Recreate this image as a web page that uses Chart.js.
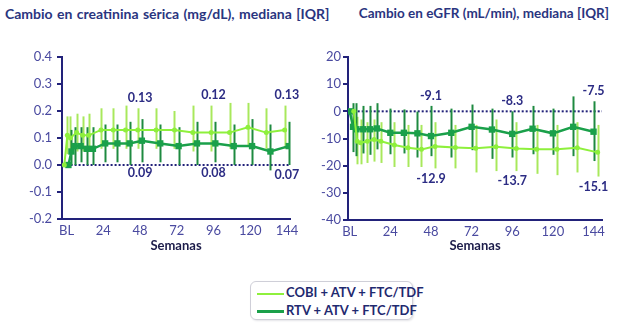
<!DOCTYPE html>
<html>
<head>
<meta charset="utf-8">
<script src="https://cdn.jsdelivr.net/npm/chart.js@4/dist/chart.umd.min.js"></script>
<style>
  body { margin: 0; background: #fff; font-family: Lato, sans-serif; }
  #wrap { position: relative; width: 619px; height: 325px; overflow: hidden; }
  .titulo { position: absolute; top: 5px; font-weight: bold; font-size: 14px; color: #2a3580; white-space: nowrap; }
  canvas { position: absolute; top: 0; }
  #leyenda { position: absolute; left: 250px; top: 281px; width: 161px; height: 37px;
             border: 1px solid #cfcfd8; border-radius: 6px; box-shadow: 1px 1px 2px #e4e4e8; }
  .item { position: absolute; left: 6px; font-weight: bold; font-size: 13px; color: #1f2a70; white-space: nowrap; }
  .item span { display: inline-block; width: 27px; height: 2px; vertical-align: middle; margin-right: 2px; }
</style>
</head>
<body>
<div id="wrap">
  <div class="titulo" style="left:5px; word-spacing:1px">Cambio en creatinina sérica (mg/dL), mediana [IQR]</div>
  <div class="titulo" style="right:10px; font-size:13.5px">Cambio en eGFR (mL/min), mediana [IQR]</div>
  <canvas id="graficoCr" width="310" height="260" style="left:0"></canvas>
  <canvas id="graficoGfr" width="309" height="260" style="left:310px"></canvas>
  <div id="leyenda">
    <div class="item" style="top:2px"><span style="background:#8ef03c"></span>COBI + ATV + FTC/TDF</div>
    <div class="item" style="top:20px"><span style="background:#1aa04a; height:3px"></span>RTV + ATV + FTC/TDF</div>
  </div>
</div>
<script>
// semanas de visita
const semanas = [0, 2, 4, 8, 12, 16, 24, 32, 40, 48, 60, 72, 84, 96, 108, 120, 132, 144];
const semanasTicks = [0, 24, 48, 72, 96, 120, 144];

// creatinina sérica (mg/dL) - mediana, Q1, Q3
const cobiCr   = [0, 0.11, 0.10, 0.12, 0.11, 0.11, 0.13, 0.13, 0.13, 0.13, 0.13, 0.13, 0.12, 0.12, 0.12, 0.14, 0.12, 0.13];
const cobiCrQ1 = [0, 0.04, 0.04, 0.05, 0.05, 0.05, 0.06, 0.06, 0.06, 0.06, 0.06, 0.06, 0.05, 0.05, 0.06, 0.07, 0.06, 0.06];
const cobiCrQ3 = [0, 0.18, 0.18, 0.19, 0.18, 0.19, 0.21, 0.21, 0.22, 0.21, 0.21, 0.20, 0.22, 0.22, 0.23, 0.23, 0.21, 0.22];
const rtvCr    = [0, 0.05, 0.07, 0.07, 0.06, 0.06, 0.08, 0.08, 0.08, 0.09, 0.08, 0.07, 0.08, 0.08, 0.07, 0.07, 0.05, 0.07];
const rtvCrQ1  = [0, 0.00, 0.00, 0.01, 0.00, 0.00, 0.01, 0.01, 0.00, 0.01, 0.01, 0.00, 0.00, 0.01, 0.00, 0.00, -0.02, 0.00];
const rtvCrQ3  = [0, 0.13, 0.14, 0.14, 0.14, 0.14, 0.15, 0.15, 0.16, 0.17, 0.15, 0.14, 0.16, 0.16, 0.15, 0.17, 0.15, 0.16];

// eGFR (mL/min) - mediana, Q1, Q3
const cobiGfr   = [0, -11.0, -11.6, -11.0, -10.4, -11.0, -12.4, -13.4, -14.0, -12.9, -13.3, -13.6, -13.0, -13.7, -14.0, -14.0, -13.4, -15.1];
const cobiGfrQ1 = [0, -19.5, -19.5, -19.0, -18.5, -19.0, -20.5, -20.5, -20.5, -21.0, -21.0, -22.5, -22.0, -22.0, -23.0, -23.5, -22.5, -24.0];
const cobiGfrQ3 = [0, -2.0, -3.0, -4.0, -3.0, -4.0, -4.0, -5.0, -5.0, -4.0, -5.0, -5.0, -3.0, -4.0, -5.0, -5.0, -4.0, -5.0];
const rtvGfr    = [0, -5.7, -6.6, -6.6, -6.6, -6.3, -7.9, -7.9, -8.1, -9.1, -7.9, -5.7, -6.7, -8.3, -6.4, -8.1, -5.7, -7.5];
const rtvGfrQ1  = [0, -15.0, -16.5, -15.5, -16.0, -14.0, -15.8, -15.5, -17.0, -16.5, -17.0, -14.3, -17.5, -17.0, -15.8, -16.0, -16.5, -18.3];
const rtvGfrQ3  = [0, 3.0, 3.0, 2.0, 2.0, 3.0, 1.0, 0.7, -0.1, 2.0, 1.0, 2.5, 1.0, 0.0, 2.0, 1.0, 5.5, 3.7];

// etiquetas de valores mostradas en el gráfico
const semanasEtiquetas = [48, 96, 144];
const cobiCrEtiquetas = ['0.13', '0.12', '0.13'];
const rtvCrEtiquetas = ['0.09', '0.08', '0.07'];
const cobiGfrEtiquetas = ['-12.9', '-13.7', '-15.1'];
const rtvGfrEtiquetas = ['-9.1', '-8.3', '-7.5'];

const azul = '#22227a';
const azulTicks = '#4a4aa0';
const verdeClaro = '#8ef03c';
const verdeClaroBarra = '#a8e85c';
const verdeOscuro = '#1aa04a';
const verdeOscuroBarra = '#1e8a40';

// barras de error (IQR) y línea de cero punteada
const pluginIQR = {
    id: 'iqr',
    beforeDatasetsDraw(chart) {
        const { ctx, scales: { x, y }, chartArea } = chart;
        ctx.save();
        // línea de cero
        ctx.strokeStyle = azul;
        ctx.lineWidth = 2;
        ctx.setLineDash([2, 2]);
        ctx.beginPath();
        ctx.moveTo(x.getPixelForValue(0), y.getPixelForValue(0));
        ctx.lineTo(chartArea.right, y.getPixelForValue(0));
        ctx.stroke();
        ctx.setLineDash([]);
        chart.data.datasets.forEach((ds) => {
            ctx.strokeStyle = ds.colorBarra;
            ctx.lineWidth = 2;
            ds.data.forEach((p, i) => {
                const px = Math.round(x.getPixelForValue(p.x)) + 0.5;
                ctx.beginPath();
                ctx.moveTo(px, y.getPixelForValue(ds.q1[i]));
                ctx.lineTo(px, y.getPixelForValue(ds.q3[i]));
                ctx.stroke();
            });
        });
        ctx.restore();
    },
    afterDatasetsDraw(chart) {
        const { ctx, scales: { x, y } } = chart;
        ctx.save();
        ctx.font = 'bold 12.5px Lato';
        ctx.fillStyle = '#2c2c84';
        ctx.textAlign = 'center';
        chart.data.datasets.forEach((ds) => {
            if (!ds.etiquetas) return;
            semanasEtiquetas.forEach((s, k) => {
                const i = semanas.indexOf(s);
                const px = x.getPixelForValue(s);
                if (ds.lado === 'arriba') {
                    ctx.textBaseline = 'bottom';
                    ctx.fillText(ds.etiquetas[k], px, y.getPixelForValue(ds.q3[i]) - 4);
                } else {
                    ctx.textBaseline = 'top';
                    ctx.fillText(ds.etiquetas[k], px, y.getPixelForValue(ds.q1[i]) + 4);
                }
            });
        });
        ctx.restore();
    }
};

function serie(label, valores, q1, q3, desplazamiento, estilo) {
    return Object.assign({
        label: label,
        data: semanas.map((s, i) => ({ x: s + desplazamiento, y: valores[i] })),
        q1: q1,
        q3: q3,
        tension: 0,
        showLine: true
    }, estilo);
}

const estiloCobi = {
    borderColor: verdeClaro, backgroundColor: verdeClaro, colorBarra: verdeClaroBarra,
    borderWidth: 2, pointStyle: 'circle', pointRadius: 2.5, pointBorderWidth: 0
};
const estiloRtv = {
    borderColor: verdeOscuro, backgroundColor: verdeOscuro, colorBarra: verdeOscuroBarra,
    borderWidth: 2.5, pointStyle: 'rect', pointRadius: 4.5, pointBorderWidth: 0
};

function crearGrafico(id, cfg) {
    return new Chart(document.getElementById(id), {
        type: 'scatter',
        data: { datasets: cfg.datasets },
        plugins: [pluginIQR],
        options: {
            responsive: false,
            devicePixelRatio: 1,
            animation: false,
            layout: { padding: { top: 57, right: cfg.derecha, left: 0, bottom: 0 } },
            plugins: { legend: { display: false }, tooltip: { enabled: false } },
            scales: {
                x: {
                    type: 'linear',
                    min: cfg.xMin, max: cfg.xMax,
                    afterBuildTicks: (scale) => { scale.ticks = semanasTicks.map(v => ({ value: v })); },
                    afterFit: (scale) => { scale.height = cfg.altoX; },
                    border: { color: azul, width: 2 },
                    grid: { display: false, drawTicks: false },
                    ticks: {
                        color: azulTicks, font: { family: 'Lato', size: 13 }, padding: 4,
                        maxRotation: 0, autoSkip: false,
                        callback: (v) => v === 0 ? 'BL' : v
                    },
                    title: {
                        display: true, text: 'Semanas', color: '#1c1c4a',
                        font: { family: 'Lato', size: 13, weight: 'bold' }, padding: { top: 0, bottom: 6 }
                    }
                },
                y: {
                    min: cfg.yMin, max: cfg.yMax,
                    afterFit: (scale) => { scale.width = cfg.anchoY; },
                    border: { color: azul, width: 2 },
                    grid: { drawOnChartArea: false, drawTicks: true, tickLength: 5, color: azul, lineWidth: 2 },
                    ticks: {
                        stepSize: cfg.paso, color: azulTicks, font: { family: 'Lato', size: 13 },
                        padding: cfg.padY, callback: cfg.formato
                    }
                }
            }
        }
    });
}

crearGrafico('graficoCr', {
    datasets: [
        serie('COBI + ATV + FTC/TDF', cobiCr, cobiCrQ1, cobiCrQ3, -1.5,
              Object.assign({ etiquetas: cobiCrEtiquetas, lado: 'arriba' }, estiloCobi)),
        serie('RTV + ATV + FTC/TDF', rtvCr, rtvCrQ1, rtvCrQ3, 1.2,
              Object.assign({ etiquetas: rtvCrEtiquetas, lado: 'abajo' }, estiloRtv))
    ],
    xMin: -3, xMax: 146, yMin: -0.2, yMax: 0.4, paso: 0.1,
    anchoY: 62, derecha: 20, altoX: 41, padY: 5,
    formato: (v) => Number(v).toFixed(1)
});

crearGrafico('graficoGfr', {
    datasets: [
        serie('COBI + ATV + FTC/TDF', cobiGfr, cobiGfrQ1, cobiGfrQ3, 2.4,
              Object.assign({ etiquetas: cobiGfrEtiquetas, lado: 'abajo' }, estiloCobi)),
        serie('RTV + ATV + FTC/TDF', rtvGfr, rtvGfrQ1, rtvGfrQ3, 0,
              Object.assign({ etiquetas: rtvGfrEtiquetas, lado: 'arriba' }, estiloRtv))
    ],
    xMin: -1, xMax: 149, yMin: -40, yMax: 20, paso: 10,
    anchoY: 38, derecha: 17, altoX: 40, padY: 2,
    formato: (v) => v
});
</script>
</body>
</html>
